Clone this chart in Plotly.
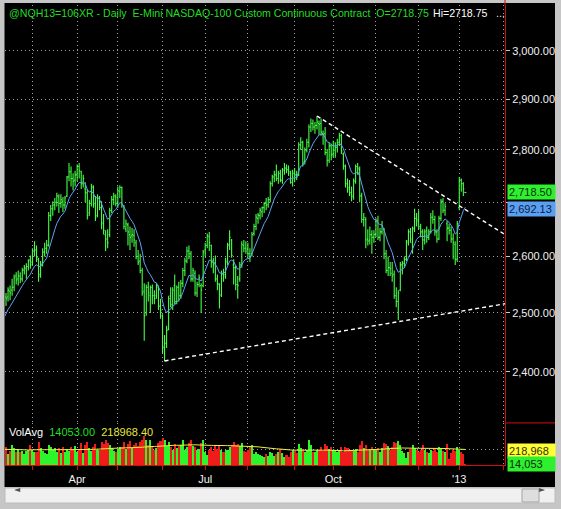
import numpy as np
import pandas as pd
import plotly.graph_objects as go

# ---------------- data ----------------
holidays = ["2012-02-20", "2012-04-06", "2012-05-28", "2012-07-04", "2012-09-03",
            "2012-10-29", "2012-10-30", "2012-11-22", "2012-12-25", "2013-01-01"]

opens = [
    2445, 2438, 2448, 2455, 2470, 2480, 2498, 2502, 2510, 2522,
    2528,
    2528, 2538, 2540, 2545, 2565,
    2560, 2565, 2560, 2576,
    2578, 2582, 2594, 2590, 2610,
    2612, 2595, 2568, 2588, 2608,
    2615, 2622, 2675, 2688, 2695,
    2700, 2710, 2698, 2702, 2695,
    2712, 2748, 2758, 2745, 2742,
    2752, 2768, 2758, 2735,
    2725, 2718, 2680, 2698, 2728,
    2698, 2675, 2708, 2690, 2662,
    2640, 2632, 2640, 2685, 2705,
    2710, 2698, 2720, 2728, 2692,
    2650, 2658, 2640, 2638, 2638,
    2625, 2600, 2592, 2575, 2538,
    2500, 2545, 2530, 2545, 2530,
    2530, 2545, 2512, 2495,
    2442, 2448, 2472, 2530, 2512,
    2548, 2520, 2545, 2530, 2552,
    2575, 2592, 2610, 2605, 2560,
    2570, 2535, 2550, 2548, 2548,
    2612, 2620, 2636, 2620,
    2590, 2588, 2560, 2550, 2532,
    2568, 2568, 2590, 2622, 2630,
    2585, 2580, 2550, 2560, 2585,
    2620, 2615, 2615, 2605, 2605,
    2642, 2655, 2670, 2675, 2682,
    2690, 2698, 2695, 2705, 2735,
    2748, 2752, 2745, 2755, 2742,
    2762, 2765, 2762, 2755, 2738,
    2755, 2752, 2752, 2810,
    2815, 2778, 2800, 2815, 2845,
    2852, 2845, 2848, 2852, 2852,
    2832, 2832, 2795, 2780, 2808,
    2792, 2800, 2805, 2815, 2828,
    2792, 2768, 2735, 2728, 2718,
    2712, 2740, 2768, 2762, 2712,
    2668, 2668, 2632, 2630, 2640,
    2635, 2640, 2665,
    2635, 2645, 2650, 2605, 2575,
    2580, 2570, 2568, 2530, 2520,
    2540, 2585, 2588, 2595,
    2625, 2645, 2625, 2652, 2670,
    2668, 2652, 2645, 2630, 2648,
    2635, 2645, 2672, 2668, 2645,
    2632, 2670, 2702, 2685, 2660,
    2652, 2648, 2632, 2622,
    2595, 2690, 2742, 2735,
    2718.75,
]
highs = [
    2455, 2448, 2462, 2478, 2482, 2505, 2508, 2515, 2525, 2535,
    2535,
    2545, 2548, 2560, 2568, 2572,
    2575, 2572, 2580, 2585,
    2588, 2595, 2602, 2615, 2628,
    2620, 2598, 2592, 2615, 2625,
    2630, 2682, 2695, 2702, 2708,
    2718, 2715, 2715, 2710, 2712,
    2750, 2775, 2768, 2755, 2760,
    2772, 2775, 2760, 2752,
    2738, 2725, 2705, 2735, 2732,
    2712, 2715, 2712, 2702, 2678,
    2648, 2650, 2690, 2712, 2718,
    2715, 2730, 2732, 2730, 2695,
    2668, 2662, 2655, 2652, 2650,
    2630, 2612, 2605, 2580, 2552,
    2550, 2555, 2548, 2550, 2540,
    2552, 2548, 2525, 2498,
    2462, 2478, 2530, 2545, 2545,
    2568, 2548, 2555, 2558, 2580,
    2598, 2618, 2620, 2610, 2580,
    2575, 2555, 2568, 2552, 2612,
    2625, 2642, 2645, 2622,
    2598, 2602, 2568, 2552, 2575,
    2578, 2598, 2625, 2648, 2632,
    2595, 2585, 2565, 2590, 2628,
    2630, 2628, 2625, 2615, 2645,
    2660, 2678, 2680, 2690, 2692,
    2700, 2708, 2710, 2740, 2752,
    2760, 2772, 2760, 2762, 2765,
    2775, 2772, 2770, 2760, 2762,
    2765, 2760, 2815, 2825,
    2818, 2805, 2822, 2850, 2862,
    2860, 2855, 2867, 2858, 2862,
    2838, 2845, 2802, 2815, 2812,
    2818, 2815, 2822, 2834, 2832,
    2795, 2772, 2745, 2742, 2730,
    2745, 2772, 2775, 2768, 2718,
    2680, 2672, 2650, 2655, 2648,
    2648, 2670, 2675,
    2652, 2665, 2652, 2612, 2600,
    2590, 2590, 2575, 2545, 2540,
    2590, 2592, 2600, 2630,
    2650, 2652, 2655, 2688, 2680,
    2685, 2660, 2650, 2650, 2655,
    2650, 2680, 2685, 2675, 2650,
    2675, 2706, 2708, 2698, 2665,
    2660, 2655, 2642, 2628,
    2665, 2748, 2745, 2738,
    2718.75,
]
lows = [
    2432, 2425, 2440, 2450, 2462, 2478, 2490, 2495, 2505, 2512,
    2512,
    2520, 2522, 2530, 2538, 2550,
    2548, 2552, 2555, 2568,
    2560, 2575, 2578, 2585, 2600,
    2590, 2555, 2562, 2582, 2600,
    2605, 2618, 2665, 2675, 2685,
    2692, 2680, 2690, 2682, 2688,
    2710, 2740, 2730, 2722, 2730,
    2740, 2745, 2725, 2728,
    2700, 2668, 2675, 2692, 2690,
    2665, 2672, 2685, 2650, 2640,
    2610, 2615, 2635, 2680, 2695,
    2692, 2690, 2708, 2690, 2650,
    2645, 2620, 2612, 2625, 2618,
    2595, 2585, 2570, 2530, 2452,
    2495, 2520, 2500, 2515, 2515,
    2525, 2505, 2490, 2430,
    2418, 2440, 2470, 2510, 2505,
    2515, 2515, 2520, 2525, 2545,
    2565, 2588, 2595, 2555, 2555,
    2530, 2528, 2545, 2500, 2545,
    2600, 2615, 2610, 2580,
    2570, 2555, 2540, 2508, 2528,
    2555, 2560, 2585, 2612, 2598,
    2550, 2540, 2525, 2555, 2580,
    2608, 2605, 2598, 2590, 2600,
    2638, 2648, 2660, 2668, 2672,
    2680, 2685, 2690, 2700, 2730,
    2738, 2740, 2735, 2738, 2735,
    2752, 2755, 2750, 2735, 2730,
    2738, 2742, 2750, 2800,
    2768, 2772, 2795, 2805, 2835,
    2838, 2832, 2840, 2830, 2828,
    2810, 2790, 2768, 2775, 2780,
    2785, 2785, 2795, 2808, 2792,
    2762, 2728, 2718, 2712, 2702,
    2705, 2735, 2752, 2700, 2662,
    2655, 2615, 2620, 2622, 2605,
    2625, 2635, 2630,
    2628, 2640, 2595, 2570, 2565,
    2565, 2555, 2525, 2510, 2488,
    2538, 2568, 2580, 2592,
    2620, 2625, 2605, 2645, 2655,
    2650, 2635, 2612, 2622, 2625,
    2630, 2642, 2660, 2638, 2625,
    2630, 2665, 2680, 2675, 2628,
    2640, 2625, 2595, 2585,
    2590, 2685, 2720, 2712,
    2718.5,
]
closes = [
    2440, 2445, 2450, 2470, 2475, 2500, 2505, 2510, 2520, 2530,
    2525,
    2540, 2535, 2545, 2562, 2558,
    2565, 2560, 2575, 2580,
    2582, 2592, 2585, 2610, 2612,
    2598, 2565, 2585, 2608, 2615,
    2620, 2675, 2688, 2695, 2700,
    2712, 2698, 2705, 2695, 2708,
    2748, 2758, 2745, 2740, 2752,
    2768, 2760, 2735, 2745,
    2718, 2675, 2698, 2730, 2695,
    2672, 2710, 2690, 2660, 2648,
    2632, 2625, 2685, 2705, 2712,
    2698, 2722, 2728, 2695, 2655,
    2660, 2645, 2635, 2640, 2630,
    2600, 2590, 2575, 2535, 2495,
    2545, 2535, 2545, 2530, 2525,
    2548, 2512, 2505, 2440,
    2448, 2470, 2525, 2515, 2540,
    2520, 2545, 2530, 2552, 2575,
    2592, 2610, 2605, 2560, 2575,
    2535, 2550, 2562, 2540, 2608,
    2620, 2638, 2625, 2590,
    2585, 2560, 2552, 2530, 2570,
    2565, 2592, 2620, 2635, 2602,
    2580, 2550, 2548, 2585, 2622,
    2615, 2610, 2605, 2600, 2640,
    2655, 2672, 2676, 2685, 2690,
    2698, 2695, 2705, 2735, 2748,
    2752, 2745, 2755, 2742, 2760,
    2765, 2762, 2758, 2738, 2755,
    2752, 2748, 2810, 2815,
    2775, 2800, 2815, 2845, 2852,
    2845, 2848, 2855, 2850, 2835,
    2830, 2795, 2780, 2808, 2790,
    2800, 2805, 2815, 2828, 2798,
    2770, 2735, 2725, 2718, 2710,
    2740, 2768, 2765, 2712, 2668,
    2672, 2630, 2628, 2640, 2635,
    2640, 2665, 2635,
    2645, 2655, 2605, 2575, 2580,
    2578, 2565, 2530, 2520, 2535,
    2585, 2588, 2595, 2628,
    2645, 2632, 2650, 2670, 2665,
    2655, 2645, 2630, 2645, 2635,
    2645, 2672, 2668, 2645, 2632,
    2670, 2702, 2685, 2692, 2652,
    2648, 2632, 2625, 2595,
    2660, 2742, 2735, 2725,
    2718.5,
]
volume_thousands = [
    210, 230, 250, 240, 220, 230, 200, 210, 220, 190,
    250,
    160, 200, 280, 240, 190,
    230, 180, 200, 150,
    200, 220, 290, 210, 180,
    190, 330, 240, 200, 170,
    160, 290, 250, 210, 240,
    180, 240, 170, 260, 190,
    230, 200, 260, 220, 270,
    190, 210, 310, 170,
    290, 330, 240, 200, 260,
    300, 220, 210, 330, 300,
    360, 320, 290, 240, 200,
    190, 230, 250, 260, 330,
    230, 300, 340, 240, 280,
    320, 270, 330, 360, 410,
    350, 280, 360, 270, 210,
    240, 320, 340, 390,
    350, 270, 330, 250, 220,
    300, 240, 270, 280, 350,
    220, 250, 320, 360, 270,
    250, 210, 230, 310, 350,
    180, 140, 220, 260,
    200, 270, 230, 270, 210,
    180, 220, 210, 250, 280,
    330, 290, 300, 270, 320,
    200, 180, 220, 260, 290,
    160, 180, 150, 140, 130,
    120, 160, 130, 190, 170,
    130, 160, 190, 230, 170,
    120, 140, 110, 190, 220,
    200, 170, 300, 240,
    230, 190, 210, 350, 290,
    180, 190, 210, 220, 260,
    200, 300, 270, 230, 250,
    220, 210, 190, 210, 250,
    180, 260, 240, 220, 210,
    200, 230, 190, 290, 340,
    240, 290, 220, 210, 250,
    230, 210, 240,
    180, 240, 320, 300, 270,
    210, 250, 330, 310, 340,
    280, 200, 170, 100,
    190, 230, 280, 240, 210,
    190, 210, 280, 220, 190,
    170, 220, 200, 230, 190,
    260, 240, 200, 190, 300,
    90, 170, 210, 200,
    250, 220, 180, 160,
    14.053,
]

# last values printed on the chart
last_open = 2718.75
last_high = 2718.75
last_close = 2718.50
last_ma = 2692.13
last_volume = 14053
last_volavg = 218968.40

price_ticks = [2400, 2500, 2600, 2700, 2800, 2900, 3000]
price_tick_labels = ["2,400.00", "2,500.00", "2,600.00", "", "2,800.00", "2,900.00", "3,000.00"]

month_ticks = ["2012-03-01", "2012-04-02", "2012-05-01", "2012-06-01", "2012-07-02", "2012-08-01",
               "2012-09-04", "2012-10-01", "2012-11-01", "2012-12-03", "2013-01-02", "2013-02-01"]
month_labels = ["", "Apr", "", "", "Jul", "", "", "Oct", "", "", "'13", ""]

# trendlines drawn on the chart (anchor date, price)
upper_trend_dates = ["2012-09-19 12:00", "2013-02-04 00:00"]
upper_trend_prices = [2867, 2640]
lower_trend_dates = ["2012-06-04 12:00", "2013-02-04 00:00"]
lower_trend_prices = [2418, 2516]

x_range = ["2012-02-10 00:00", "2013-02-04 00:00"]
price_range = [2317.5, 3097]
vol_range = [0, 600000]

# ---------------- derived ----------------
days = [d for d in pd.bdate_range("2012-01-27", "2013-01-07") if d.strftime("%Y-%m-%d") not in holidays]
assert len(days) == len(opens) == len(highs) == len(lows) == len(closes) == len(volume_thousands), \
    (len(days), len(opens), len(highs), len(lows), len(closes), len(volume_thousands))
xd = [d + pd.Timedelta(hours=12) for d in days]
volume = [v * 1000 for v in volume_thousands]
ma = pd.Series(closes).ewm(span=10, adjust=False).mean()
vol_avg = pd.Series(volume).rolling(50, min_periods=1).mean()

GREEN = "#45ff45"
VGREEN = "#2cf52c"
VRED = "#f01c1c"
VOLIVE = "#a39b2e"
vol_colors = []
for i in range(len(closes)):
    prev = closes[i - 1] if i > 0 else opens[i]
    if closes[i] >= prev and closes[i] >= opens[i]:
        vol_colors.append(VGREEN)
    elif closes[i] < prev and closes[i] < opens[i]:
        vol_colors.append(VRED)
    else:
        vol_colors.append(VOLIVE)

tickx = [pd.Timestamp(d) + pd.Timedelta(hours=12) for d in month_ticks]

FONT = "Liberation Sans, Arial, sans-serif"
W, H = 561, 509
ML, MR, MT, MB = 5, 56, 5, 44
PW, PH = W - ML - MR, H - MT - MB


def px(x):
    return (x - ML) / PW


def py(y):
    return (H - MB - y) / PH


fig = go.Figure()

fig.add_trace(go.Ohlc(
    x=xd, open=opens, high=highs, low=lows, close=closes,
    xaxis="x2", yaxis="y",
    increasing=dict(line=dict(color=GREEN, width=1.1)),
    decreasing=dict(line=dict(color=GREEN, width=1.1)),
    tickwidth=0.5, hoverinfo="skip", showlegend=False))

fig.add_trace(go.Scatter(
    x=xd, y=ma, xaxis="x2", yaxis="y", mode="lines",
    line=dict(color="#5ea2f4", width=1), hoverinfo="skip", showlegend=False))

for dts, prs in [(upper_trend_dates, upper_trend_prices), (lower_trend_dates, lower_trend_prices)]:
    fig.add_trace(go.Scatter(
        x=dts, y=prs, xaxis="x2", yaxis="y", mode="lines",
        line=dict(color="#ffffff", width=1.4, dash="4px,3px"), hoverinfo="skip", showlegend=False))

fig.add_trace(go.Bar(
    x=xd, y=volume, xaxis="x", yaxis="y2",
    marker=dict(color=vol_colors, line=dict(width=0)),
    hoverinfo="skip", showlegend=False))

fig.add_trace(go.Scatter(
    x=xd, y=vol_avg, xaxis="x", yaxis="y2", mode="lines",
    line=dict(color="#f2f23c", width=1), hoverinfo="skip", showlegend=False))

GRID = dict(showgrid=True, gridcolor="#a0a0a0", gridwidth=1, griddash="1px,3px")
rb = [dict(bounds=["sat", "mon"]), dict(values=holidays)]

fig.update_layout(
    width=W, height=H, autosize=False,
    margin=dict(l=ML, r=MR, t=MT, b=MB, autoexpand=False),
    paper_bgcolor="#c6c6c6", plot_bgcolor="#000000",
    bargap=0, hovermode=False, showlegend=False,
    font=dict(family=FONT, size=11, color="#f0f0f0"),
    xaxis=dict(
        type="date", range=x_range, rangebreaks=rb, domain=[0, 1], anchor="y2",
        rangeslider=dict(visible=False),
        tickmode="array", tickvals=tickx, ticktext=month_labels,
        ticks="outside", ticklen=4, tickcolor="#d01010",
        showline=True, linecolor="#d01010", linewidth=1, automargin=False,
        zeroline=False, tickfont=dict(family=FONT, size=11, color="#f0f0f0"),
        **GRID),
    xaxis2=dict(
        type="date", range=x_range, rangebreaks=rb, domain=[0, 1], anchor="y", matches="x",
        rangeslider=dict(visible=False),
        tickmode="array", tickvals=tickx, showticklabels=False, ticks="",
        showline=False, zeroline=False, automargin=False, **GRID),
    yaxis=dict(
        type="log", range=[np.log10(price_range[0]), np.log10(price_range[1])],
        domain=[0.0935, 1], side="right", anchor="x2",
        tickmode="array", tickvals=price_ticks, ticktext=price_tick_labels,
        ticks="outside", ticklen=4, tickcolor="#c8c8c8",
        showline=True, linecolor="#d01010", linewidth=1, zeroline=False, automargin=False,
        tickfont=dict(family=FONT, size=11, color="#f0f0f0"),
        **GRID),
    yaxis2=dict(
        range=vol_range, domain=[0, 0.0915], side="right", anchor="x",
        tickmode="array", tickvals=[last_volavg], showticklabels=False, ticks="",
        showline=True, linecolor="#d01010", linewidth=1, zeroline=False, automargin=False,
        **GRID),
)

shapes = [
    # black chart window
    dict(type="rect", xref="paper", yref="paper", x0=px(4.5), x1=px(555), y0=py(487), y1=py(3),
         fillcolor="#000000", line=dict(width=0), layer="below"),
    # red axis line continues to the top edge
    dict(type="line", xref="paper", yref="paper", x0=1.0, x1=1.0, y0=1.0, y1=py(0),
         line=dict(color="#d01010", width=1)),
    # separator in the axis strip between the panes
    dict(type="line", xref="paper", yref="paper", x0=1.0, x1=px(555), y0=0.0915, y1=0.0915,
         line=dict(color="#d01010", width=1)),
    # scroll bar
    dict(type="rect", xref="paper", yref="paper", x0=px(5), x1=px(555), y0=py(503), y1=py(488),
         fillcolor="#f0f0f0", line=dict(color="#bcbcbc", width=1)),
    dict(type="rect", xref="paper", yref="paper", x0=px(522), x1=px(539), y0=py(502), y1=py(489),
         fillcolor="#dedede", line=dict(color="#a4a4a4", width=1)),
]
fig.update_layout(shapes=shapes)

TFS = 10.6
ann = []
ann.append(dict(xref="paper", yref="paper", x=px(7), y=py(13), xanchor="left", yanchor="middle",
                text="@NQH13=106XR - Daily&nbsp; E-Mini NASDAQ-100 Custom Continuous Contract&nbsp; O=%.2f" % last_open,
                showarrow=False, font=dict(family=FONT, size=TFS, color="#22dd22")))
ann.append(dict(xref="paper", yref="paper", x=px(431), y=py(13), xanchor="left", yanchor="middle",
                text="Hi=%.2f" % last_high, showarrow=False,
                font=dict(family=FONT, size=TFS, color="#ffffff")))
ann.append(dict(xref="paper", yref="paper", x=px(494), y=py(13), xanchor="left", yanchor="middle",
                text="...", showarrow=False, font=dict(family=FONT, size=TFS, color="#e0e0e0")))
ann.append(dict(xref="paper", yref="paper", x=px(7), y=py(432), xanchor="left", yanchor="middle",
                text="VolAvg&nbsp; <span style='color:#22dd22'>%.2f</span>&nbsp; <span style='color:#e6e63a'>%.2f</span>"
                     % (last_volume, last_volavg),
                showarrow=False, font=dict(family=FONT, size=11, color="#ffffff")))

box = dict(xref="paper", x=px(507), xanchor="left", yanchor="middle", showarrow=False,
           width=45, height=12, align="left", borderpad=1)
ann.append(dict(box, yref="y", y=np.log10(last_close), text="{:,.2f}".format(last_close),
                bgcolor="#2ef02e", font=dict(family=FONT, size=11, color="#0a2e0a")))
ann.append(dict(box, yref="y", y=np.log10(last_ma), yshift=-2.5, text="{:,.2f}".format(last_ma),
                bgcolor="#5b9ff2", font=dict(family=FONT, size=11, color="#0a1a40")))
ann.append(dict(box, yref="y2", y=last_volavg, yshift=-1, text="{:,.0f}".format(last_volavg),
                bgcolor="#ffff33", font=dict(family=FONT, size=11, color="#303000")))
ann.append(dict(box, yref="y2", y=last_volume, text="{:,.0f}".format(last_volume),
                bgcolor="#2ef02e", font=dict(family=FONT, size=11, color="#0a2e0a")))
ann.append(dict(xref="paper", yref="paper", x=px(12), y=py(495.5), text="\u25c4", showarrow=False,
                font=dict(family="DejaVu Sans", size=8, color="#505050")))
ann.append(dict(xref="paper", yref="paper", x=px(548), y=py(495.5), text="\u25ba", showarrow=False,
                font=dict(family="DejaVu Sans", size=8, color="#505050")))
fig.update_layout(annotations=ann)

fig.write_html("out.html", config={"displayModeBar": False, "staticPlot": True},
               post_script="document.body.style.margin='0px';document.body.style.padding='0px';")
